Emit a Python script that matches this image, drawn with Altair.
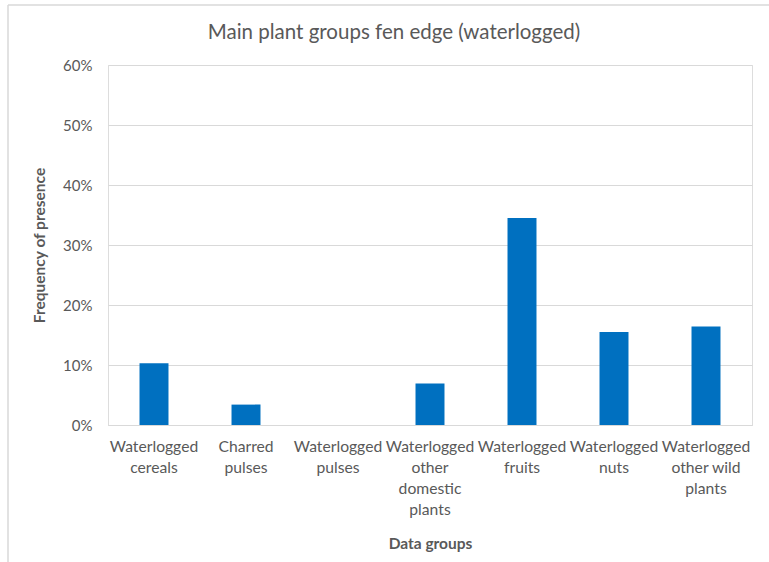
import altair as alt
import pandas as pd

# Plant groups (line breaks give the wrapped axis labels) and frequency of presence
categories = [
    "Waterlogged\ncereals",
    "Charred\npulses",
    "Waterlogged\npulses",
    "Waterlogged\nother\ndomestic\nplants",
    "Waterlogged\nfruits",
    "Waterlogged\nnuts",
    "Waterlogged\nother wild\nplants",
]
frequency = [0.103, 0.034, 0.0, 0.069, 0.345, 0.155, 0.164]
y_ticks = [0.0, 0.1, 0.2, 0.3, 0.4, 0.5, 0.6]

df = pd.DataFrame({"group": categories, "frequency": frequency})

FONT = "Lato"
GREY = "#595959"
LIGHT = "#d9d9d9"

bars = alt.Chart(df).mark_bar(color="#0070C0").encode(
    x=alt.X(
        "group:N",
        sort=categories,
        title="Data groups",
        scale=alt.Scale(paddingInner=0.685, paddingOuter=0.3425),
        axis=alt.Axis(
            labelExpr="split(datum.label, '\\n')",
            labelAngle=0,
            labelAlign="center",
            labelBaseline="top",
            labelLineHeight=21,
            labelPadding=14,
            labelFontSize=15.7,
            labelColor=GREY,
            labelFont=FONT,
            ticks=False,
            domainColor=LIGHT,
            domainWidth=1,
            titleFont=FONT,
            titleFontSize=15.5,
            titleFontWeight="bold",
            titleColor=GREY,
            titlePadding=20,
        ),
    ),
    y=alt.Y(
        "frequency:Q",
        title="Frequency of presence",
        scale=alt.Scale(domain=[0, 0.6], nice=False),
        axis=alt.Axis(
            values=y_ticks,
            format=".0%",
            ticks=False,
            domain=False,
            grid=True,
            gridColor=LIGHT,
            gridWidth=1,
            labelPadding=16,
            labelFontSize=15,
            labelColor=GREY,
            labelFont=FONT,
            titleFont=FONT,
            titleFontSize=15.5,
            titleFontWeight="bold",
            titleColor=GREY,
            titlePadding=15,
        ),
    ),
)

# Light frame around the chart area (top and left edges)
edge = pd.DataFrame({"k": [0]})
frame_top = alt.Chart(edge).mark_rule(color=LIGHT, strokeWidth=1.5).encode(
    x=alt.value(-100), x2=alt.value(661), y=alt.value(-60)
)
frame_left = alt.Chart(edge).mark_rule(color=LIGHT, strokeWidth=1.5).encode(
    x=alt.value(-100), y=alt.value(-60), y2=alt.value(497)
)

chart = (
    alt.layer(frame_top, frame_left, bars)
    .properties(
        width=644,
        height=360,
        autosize=alt.AutoSizeParams(type="none"),
        padding={"left": 108, "top": 65, "right": 17, "bottom": 137},
        title=alt.TitleParams(
            "Main plant groups fen edge (waterlogged)",
            font=FONT,
            fontSize=20.5,
            fontWeight="normal",
            color=GREY,
            anchor="middle",
            baseline="alphabetic",
            dx=-36,
            offset=-55,
        ),
    )
    .configure_view(stroke=None)
    .configure(background="white")
)

chart.save("out.html", embed_options={"renderer": "svg", "actions": False})
